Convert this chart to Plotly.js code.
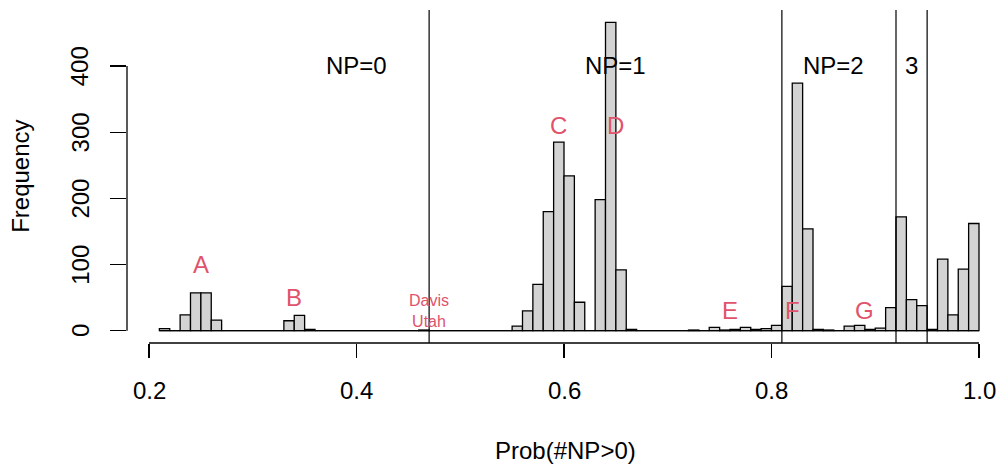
<!DOCTYPE html>
<html>
<head>
<meta charset="utf-8">
<script src="https://cdn.plot.ly/plotly-3.0.1.min.js"></script>
<style>html,body{margin:0;padding:0;background:#fff;}#chart{width:1001px;height:466px;}</style>
</head>
<body>
<div id="chart"></div>
<script>
// Histogram bins (lower edges, width 0.01) and frequencies
const binLeft = [0.21,0.22,0.23,0.24,0.25,0.26,0.27,0.28,0.29,0.30,
  0.31,0.32,0.33,0.34,0.35,0.36,0.37,0.38,0.39,0.40,
  0.41,0.42,0.43,0.44,0.45,0.46,0.47,0.48,0.49,0.50,
  0.51,0.52,0.53,0.54,0.55,0.56,0.57,0.58,0.59,0.60,
  0.61,0.62,0.63,0.64,0.65,0.66,0.67,0.68,0.69,0.70,
  0.71,0.72,0.73,0.74,0.75,0.76,0.77,0.78,0.79,0.80,
  0.81,0.82,0.83,0.84,0.85,0.86,0.87,0.88,0.89,0.90,
  0.91,0.92,0.93,0.94,0.95,0.96,0.97,0.98,0.99];
const counts = [3,0,24,57,57,16,0,0,0,0,
  0,0,15,23,2,0,0,0,0,0,
  0,0,0,0,0,1,0,0,0,0,
  0,0,0,0,7,30,70,180,285,234,
  43,0,198,466,92,2,0,0,0,0,
  0,1,0,5,1,2,5,2,3,8,
  67,374,154,2,1,0,7,8,2,4,
  35,172,47,38,2,108,24,93,162];
const binWidth = 0.01;

// Threshold lines separating NP groups
const cutoffs = [0.47, 0.81, 0.92, 0.95];
const groupLabels = ["NP=0", "NP=1", "NP=2", "3"];
const groupX = [0.40, 0.65, 0.86, 0.935];
const groupY = [400, 400, 400, 400];

// Red point labels
const ptLabels = ["A", "B", "C", "D", "E", "F", "G"];
const ptX = [0.25, 0.34, 0.595, 0.65, 0.76, 0.82, 0.89];
const ptY = [100, 50, 310, 310, 30, 30, 30];
const smallLabel = "Davis<br>Utah";
const smallX = 0.47, smallY = 30;

const xTicks = [0.2, 0.4, 0.6, 0.8, 1.0];
const xTickText = ["0.2", "0.4", "0.6", "0.8", "1.0"];
const yTicks = [0, 100, 200, 300, 400];
const yTickText = ["0", "100", "200", "300", "400"];

const FONT = "Liberation Sans, Arial, Helvetica, sans-serif";
const RED = "#DF536B";

const trace = {
  type: "bar",
  x: binLeft,
  y: counts,
  width: binLeft.map(() => binWidth),
  offset: 0,
  marker: {color: "#D3D3D3", line: {color: "#000", width: 1.3}},
  hoverinfo: "x+y"
};

const shapes = [];
cutoffs.forEach(c => shapes.push({type: "line", xref: "x", yref: "paper", x0: c, x1: c, y0: 0, y1: 1,
  line: {color: "#000", width: 1.2}}));
// baseline of histogram
shapes.push({type: "line", xref: "x", yref: "y", x0: binLeft[0], x1: binLeft[binLeft.length-1] + binWidth, y0: 0, y1: 0,
  line: {color: "#000", width: 1.2}});
// detached axes lines
shapes.push({type: "line", xref: "x", yref: "paper", x0: xTicks[0], x1: xTicks[xTicks.length-1], y0: 0, y1: 0,
  line: {color: "#000", width: 1.3}});
shapes.push({type: "line", xref: "paper", yref: "y", x0: 0, x1: 0, y0: yTicks[0], y1: yTicks[yTicks.length-1],
  line: {color: "#000", width: 1.3}});

const annotations = [];
groupLabels.forEach((t, i) => annotations.push({text: t, x: groupX[i], y: groupY[i], xref: "x", yref: "y",
  showarrow: false, xanchor: "center", yanchor: "middle", font: {family: FONT, size: 24, color: "#000"}}));
ptLabels.forEach((t, i) => annotations.push({text: t, x: ptX[i], y: ptY[i], xref: "x", yref: "y",
  showarrow: false, xanchor: "center", yanchor: "middle", font: {family: FONT, size: 24, color: RED}}));
annotations.push({text: smallLabel, x: smallX, y: smallY, xref: "x", yref: "y", showarrow: false,
  xanchor: "center", yanchor: "middle", font: {family: FONT, size: 16, color: RED}});
// tick labels (R-style placement)
xTicks.forEach((v, i) => annotations.push({text: xTickText[i], x: v, y: -0.143, xref: "x", yref: "paper",
  showarrow: false, xanchor: "center", yanchor: "middle", font: {family: FONT, size: 24, color: "#000"}}));
yTicks.forEach((v, i) => annotations.push({text: yTickText[i], x: -0.0535, y: v, xref: "paper", yref: "y",
  showarrow: false, textangle: -90, xanchor: "center", yanchor: "middle", font: {family: FONT, size: 24, color: "#000"}}));
annotations.push({text: "Prob(#NP>0)", x: 0.5017, y: -0.324, xref: "paper", yref: "paper", showarrow: false,
  xanchor: "center", yanchor: "middle", font: {family: FONT, size: 24, color: "#000"}});
annotations.push({text: "Frequency", x: -0.122, y: 0.5, xref: "paper", yref: "paper", showarrow: false,
  textangle: -90, xanchor: "center", yanchor: "middle", font: {family: FONT, size: 24, color: "#000"}});

const layout = {
  width: 1001, height: 466,
  margin: {l: 127, r: 0, t: 10, b: 123, pad: 0},
  paper_bgcolor: "#fff", plot_bgcolor: "#fff",
  showlegend: false,
  bargap: 0,
  xaxis: {
    range: [0.1788, 1.0212], showgrid: false, zeroline: false, showline: false,
    tickmode: "array", tickvals: xTicks, showticklabels: false,
    ticks: "outside", ticklen: 14, tickwidth: 1.3, tickcolor: "#000"
  },
  yaxis: {
    range: [-18.6, 484.6], showgrid: false, zeroline: false, showline: false,
    tickmode: "array", tickvals: yTicks, showticklabels: false,
    ticks: "outside", ticklen: 16, tickwidth: 1.3, tickcolor: "#000"
  },
  shapes: shapes,
  annotations: annotations
};

Plotly.newPlot("chart", [trace], layout, {displayModeBar: false, staticPlot: true});
</script>
</body>
</html>
